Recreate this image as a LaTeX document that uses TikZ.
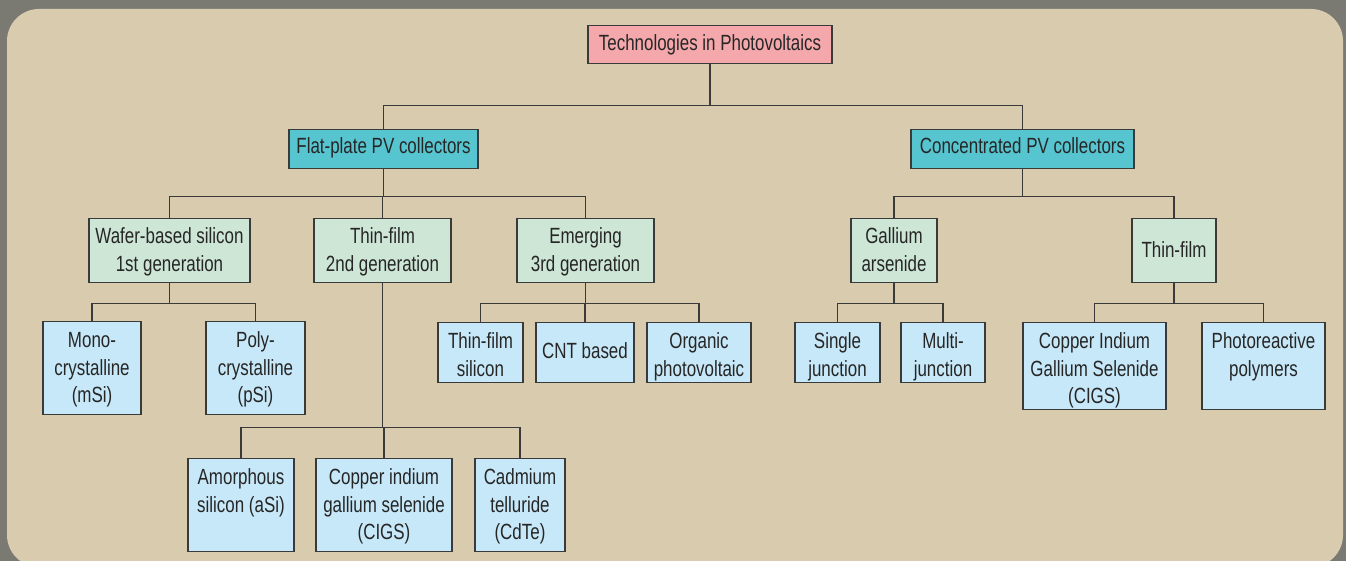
\documentclass[tikz,border=0pt]{standalone}
\usepackage{fontspec}
\newfontfamily\condfont{Liberation Sans}[FakeStretch=0.77]
\usepackage{tikz}
\definecolor{framegray}{HTML}{7A7A73}
\definecolor{paper}{HTML}{D8CBAE}
\definecolor{rootpink}{HTML}{F5A8AC}
\definecolor{colteal}{HTML}{56C5D0}
\definecolor{genmint}{HTML}{CDE6D6}
\definecolor{leafblue}{HTML}{C7E8F8}
\definecolor{inkline}{HTML}{3A3A3A}
\tikzset{%
  box/.style = {draw=inkline, line width=1.3pt, anchor=north,
    align=flush center, inner xsep=0pt, text=black!85,
    font=\condfont\fontsize{22}{27.5}\selectfont},
  rootbox/.style = {box, fill=rootpink, text width=#1,
    inner ysep=9pt, text height=16pt, text depth=4pt},
  collbox/.style = {box, fill=colteal, text width=#1,
    inner ysep=8pt, text height=16pt, text depth=7pt},
  genbox/.style = {box, fill=genmint, text width=#1,
    inner ysep=9pt, text height=16pt, text depth=30pt},
  leafbox/.style = {box, fill=leafblue, text width=#1,
    inner ysep=10pt, text height=16pt},
  link/.style = {draw=inkline, line width=1.4pt}
}

\begin{document}
\begin{tikzpicture}[x=1pt, y=-1pt]
  \useasboundingbox (0,0) rectangle (1346,561);
  \fill[framegray] (0,0) rectangle (1346,561);
  \fill[paper, rounded corners=32pt] (7,9) rectangle (1343,567);

  % top levels
  \node[rootbox=244] (root) at (710,25) {Technologies in Photovoltaics};
  \node[collbox=189] (flat) at (383.5,129) {Flat-plate PV collectors};
  \node[collbox=223] (conc) at (1022.5,129) {Concentrated PV collectors};

  % generations
  \node[genbox=161] (wafer) at (169.5,218) {Wafer-based silicon\\1st generation};
  \node[genbox=137] (thinfilm) at (382.5,218) {Thin-film\\2nd generation};
  \node[genbox=137] (emerging) at (585.5,218) {Emerging\\3rd generation};
  \node[genbox=86] (gaas) at (894,218) {Gallium\\arsenide};
  \node[genbox=84, text height=30pt, text depth=16pt] (thinr) at (1174,218) {Thin-film};

  % leaves
  \node[leafbox=98, text depth=57pt] (mono) at (92,321) {Mono-\\crystalline\\(mSi)};
  \node[leafbox=99, text depth=57pt] (poly) at (255.5,321) {Poly-\\crystalline\\(pSi)};
  \node[leafbox=85, text depth=24pt] (tfsi) at (480.5,322) {Thin-film\\silicon};
  \node[leafbox=98, text height=26pt, text depth=14pt] (cnt) at (585,322) {CNT based};
  \node[leafbox=104, text depth=24pt] (organic) at (699,322) {Organic\\photovoltaic};
  \node[leafbox=106, text depth=57pt] (amorph) at (241,458) {Amorphous\\silicon (aSi)};
  \node[leafbox=136, text depth=57pt] (cigsl) at (384,458) {Copper indium\\gallium selenide\\(CIGS)};
  \node[leafbox=90, text depth=57pt] (cdte) at (520,458) {Cadmium\\telluride\\(CdTe)};
  \node[leafbox=85, text depth=24pt] (single) at (837.5,322) {Single\\junction};
  \node[leafbox=84, text depth=24pt] (multi) at (943,322) {Multi-\\junction};
  \node[leafbox=143, text depth=51pt] (cigsr) at (1094.5,322) {Copper Indium\\Gallium Selenide\\(CIGS)};
  \node[leafbox=123, text depth=51pt] (photo) at (1263.5,322) {Photoreactive\\polymers};

  % connectors
  \draw[link] (root.south) -- ++(0,41) coordinate (rootfork) -| (flat.north);
  \draw[link] (rootfork) -| (conc.north);
  \draw[link] (flat.south) -- ++(0,27) coordinate (flatfork) -| (wafer.north);
  \foreach \kid in {thinfilm,emerging}
    \draw[link] (flatfork) -| (\kid.north);
  \draw[link] (conc.south) -- ++(0,27) coordinate (concfork) -| (gaas.north);
  \draw[link] (concfork) -| (thinr.north);
  \draw[link] (wafer.south) -- ++(0,20) coordinate (waferfork) -| (mono.north);
  \draw[link] (waferfork) -| (poly.north);
  \draw[link] (thinfilm.south) -- ++(0,144) coordinate (thinfork) -| (amorph.north);
  \foreach \kid in {cigsl,cdte}
    \draw[link] (thinfork) -| (\kid.north);
  \draw[link] (emerging.south) -- ++(0,20) coordinate (emergfork) -| (tfsi.north);
  \foreach \kid in {cnt,organic}
    \draw[link] (emergfork) -| (\kid.north);
  \draw[link] (gaas.south) -- ++(0,20) coordinate (gaasfork) -| (single.north);
  \draw[link] (gaasfork) -| (multi.north);
  \draw[link] (thinr.south) -- ++(0,20) coordinate (thinrfork) -| (cigsr.north);
  \draw[link] (thinrfork) -| (photo.north);
\end{tikzpicture}
\end{document}
